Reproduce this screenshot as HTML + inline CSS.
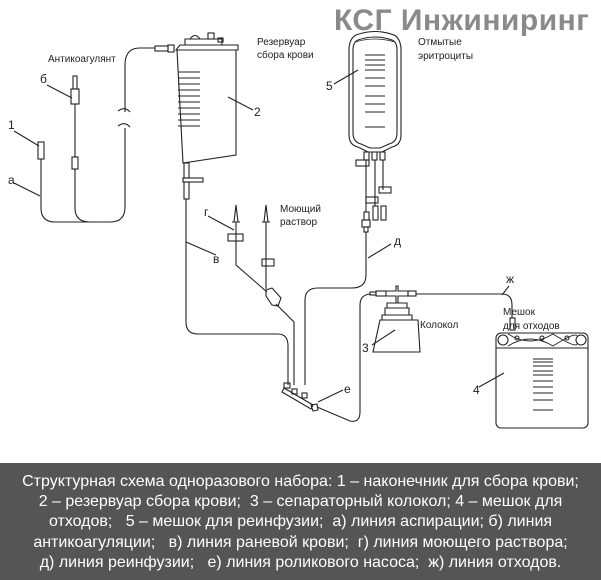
<!DOCTYPE html>
<html><head><meta charset="utf-8"><style>
html,body{margin:0;padding:0;background:#fff;}
body{width:601px;height:580px;position:relative;overflow:hidden;font-family:"Liberation Sans",sans-serif;}
#cap{position:absolute;left:0;top:463px;width:601px;height:117px;background:#555;color:#fff;font-size:16px;line-height:20.2px;text-align:center;padding-top:9px;box-sizing:border-box;white-space:pre;}
svg{position:absolute;left:0;top:0;}
</style></head><body>
<svg width="601" height="463" viewBox="0 0 601 463" font-family="Liberation Sans, sans-serif" font-size="10" fill="none" stroke="#222" stroke-width="1.1">
<text x="334" y="30" font-size="30" font-weight="bold" fill="#8a8a8a" stroke="none" letter-spacing="0.5">КСГ Инжиниринг</text>
<!-- labels -->
<g fill="#222" stroke="none" font-size="10">
<text x="48" y="62">Антикоагулянт</text>
<text x="257" y="45">Резервуар</text><text x="257" y="58">сбора крови</text>
<text x="418" y="45">Отмытые</text><text x="418" y="59">эритроциты</text>
<text x="280" y="212">Моющий</text><text x="280" y="225">раствор</text>
<text x="420" y="328">Колокол</text>
<text x="503" y="315">Мешок</text><text x="503" y="329">для отходов</text>
<g font-size="12">
<text x="40" y="83">б</text><text x="8" y="129">1</text><text x="8" y="184">а</text>
<text x="254" y="116">2</text><text x="326" y="90">5</text>
<text x="204" y="216">г</text><text x="213" y="263">в</text><text x="394" y="245">д</text>
<text x="344" y="393">е</text><text x="362" y="352">3</text><text x="506" y="283">ж</text><text x="473" y="394">4</text>
</g></g>
<!-- leader lines -->
<path d="M47 85 L72 98 M14 131 L39 146 M14 183 L40 196 M253 110 L228 97 M334 84 L358 70 M208 216 L234 230 M216 255 L186 242 M391 244 L368 258 M343 390 L318 402 M372 345 L395 330 M509 286 L502 295 M479 387 L504 373"/>
<!-- anticoag tip б -->
<rect x="73" y="76" width="4" height="13"/><rect x="71" y="89" width="8" height="15"/><rect x="72" y="157" width="6" height="12"/>
<path d="M75 104 V157 M75 169 V208 Q75 222 90 222"/>
<!-- tip 1 -->
<rect x="38" y="142" width="6" height="17"/>
<path d="M41 159 V208 Q41 222 55 222 H110 Q125 222 125 207 V128 M125 112 V65 Q125 48 140 48 H155"/>
<path d="M118 111 Q125 106 130 112 M118 126 Q125 121 130 127"/>
<rect x="155" y="46" width="13" height="5"/><rect x="168" y="45" width="6" height="7"/>
<!-- reservoir -->
<path d="M180 45 H238 V50 H176 Z"/><path d="M185 45 V39 H222 V45"/><path d="M190 39 Q195 32 200 39"/><rect x="208" y="33" width="6" height="6"/><rect x="218" y="38" width="5" height="4"/>
<path d="M177 50 L183 163 L236 155 V50"/>
<path d="M178 72 H200 M178 78 H200 M178 84 H200 M178 90 H200 M178 96 H200 M178 102 H200 M178 108 H200 M178 114 H200 M178 120 H200 M178 126 H200"/>
<rect x="184" y="163" width="5" height="15"/><rect x="183" y="178" width="20" height="4"/><rect x="184" y="182" width="5" height="17"/>
<path d="M186 199 V322 Q186 334 198 334 H278 Q288 334 288 346 V385"/>
<!-- wash lines -->
<path d="M234 222 L236 205 L238 222 Z M232 222 H240"/><path d="M264 222 L266 205 L268 222 Z M262 222 H270"/>
<rect x="228" y="234" width="15" height="7"/><rect x="262" y="259" width="12" height="7"/>
<path d="M236 222 V265 L267 292 M266 222 V289 M276 304 L294 322 V385"/>
<path d="M266 290 L272 288 L281 298 L278 306 L272 305 L266 296 Z"/>
<!-- bag 5 -->
<path d="M356 35 Q375 28 394 35 Q400 38 401 48 V135 Q401 145 392 147 L382 152 H368 L358 147 Q349 145 349 135 V48 Q350 38 356 35 Z"/>
<path d="M358 40 Q375 34 392 40 Q397 42 397 50 V133 Q397 142 389 144 L380 148 H370 L361 144 Q353 142 353 133 V50 Q353 42 358 40 Z"/>
<path d="M355 42 Q375 36 395 42" stroke-width="0.8"/>
<g stroke-width="0.9"><path d="M365 55 H385 M365 60 H385 M365 65 H385 M365 70 H385 M365 78 H385 M365 86 H385 M365 96 H385 M365 104 H385 M365 112 H385 M365 127 H385"/></g>
<rect x="364" y="152" width="5" height="8"/><rect x="372" y="152" width="5" height="8"/><rect x="380" y="152" width="5" height="8"/>
<path d="M366 160 V212 M375 160 V206 M383 160 V190"/>
<rect x="356" y="160" width="13" height="6"/><rect x="379" y="187" width="12" height="6"/><rect x="366" y="197" width="12" height="6"/>
<rect x="373" y="206" width="5" height="14"/><rect x="381" y="206" width="5" height="14"/>
<rect x="364" y="212" width="5" height="8"/><rect x="362" y="220" width="8" height="7"/><rect x="364" y="227" width="4" height="5"/>
<path d="M366 232 V275 Q366 288 352 288 H318 Q305 288 305 300 V385"/>
<!-- manifold -->
<path d="M284 388 L313 405 L311 409 L282 392 Z"/>
<rect x="284" y="383" width="6" height="5"/><rect x="292" y="389" width="5" height="5"/><rect x="302" y="393" width="5" height="5"/>
<path d="M311 405 L317 404 L318 410 L313 411 Z"/>
<path d="M317 407 L350 421 Q360 423 360 412 V305 Q360 295 370 294"/>
<!-- bell -->
<rect x="376" y="291" width="10" height="5"/><rect x="370" y="292" width="6" height="3"/>
<path d="M386 291 H396 V286 H398 V291 H408 V296 H398 V303 H396 V296 H386"/>
<rect x="408" y="291" width="8" height="5"/>
<path d="M387 303 H407 V308 H387 Z M385 308 H409 V315 H385 Z M382 315 H412 V320 H382 Z"/>
<path d="M380 320 L418 320 L420 352 L373 352 Z"/>
<path d="M416 294 H502 Q512 294 512 305 V318"/>
<rect x="510" y="318" width="5" height="12"/>
<!-- bag 4 -->
<rect x="496" y="333" width="92" height="95" rx="5"/>
<path d="M496 348 H588"/>
<circle cx="503" cy="340" r="5"/><circle cx="581" cy="340" r="5"/>
<circle cx="517" cy="338" r="2"/><circle cx="542" cy="338" r="2"/><circle cx="567" cy="338" r="2"/>
<path d="M508 334 Q530 348 553 334 Q575 348 577 344 M508 346 Q530 332 553 346 Q575 332 577 336" stroke-width="0.9"/>
<g stroke-width="0.9"><path d="M533 359 H553 M533 362 H553 M533 366 H553 M533 371 H553 M533 375 H553 M533 381 H553 M533 387 H553 M533 393 H553 M533 400 H553 M533 410 H553"/></g>
</svg>
<div id="cap">Структурная схема одноразового набора: 1 – наконечник для сбора крови;
2 – резервуар сбора крови;  3 – сепараторный колокол; 4 – мешок для
отходов;   5 – мешок для реинфузии;  а) линия аспирации; б) линия
антикоагуляции;   в) линия раневой крови;  г) линия моющего раствора;
д) линия реинфузии;   е) линия роликового насоса;  ж) линия отходов.</div>
</body></html>
